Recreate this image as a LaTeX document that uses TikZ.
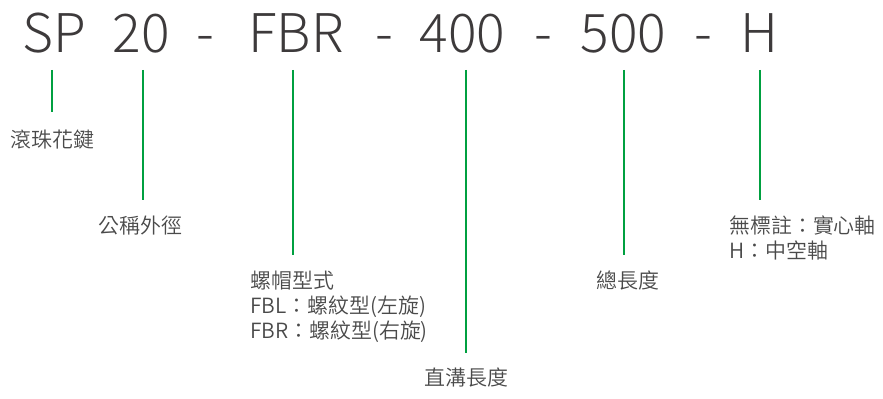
\documentclass[tikz,border=0pt]{standalone}
\usepackage{fontspec}
\setmainfont{Noto Sans CJK TC}
\newfontfamily\codefont{Noto Sans CJK TC Light}
\newfontfamily\notefont{Noto Sans CJK TC DemiLight}
\definecolor{codegray}{HTML}{3D3A3B}
\definecolor{labelgray}{HTML}{4A4A4A}
\definecolor{leadgreen}{HTML}{00A040}
\tikzset{
  code/.style={text=codegray,font=\codefont\fontsize{40}{44}\selectfont,anchor=base,inner sep=0pt},
  label/.style={text=labelgray,font=\notefont\fontsize{15.7}{18.75}\selectfont,anchor=west,align=left,inner sep=0pt},
  lead/.style={draw=leadgreen,line width=1.8pt}
}
\begin{document}
\begin{tikzpicture}[x=0.75pt,y=-0.75pt]
\useasboundingbox (0,0) rectangle (883,399);
% model code
\node[code] (sp) at (54.5,53) {SP};
\node[code] (dia) at (141,53) {20};
\node[code] (d1) at (205.5,53) {-};
\node[code] (nut) at (296,53) {FBR};
\node[code] (d2) at (384.5,53) {-};
\node[code] (groove) at (462.5,53) {400};
\node[code] (d3) at (543.5,53) {-};
\node[code] (total) at (623.5,53) {500};
\node[code] (d4) at (703.5,53) {-};
\node[code] (shaft) at (759,53) {H};
% leader lines
\foreach \x/\y in {52/112,143/200,293/255,466/353,624/255,760/200}
\draw[lead] (\x,70) -- (\x,\y);
% descriptions
\node[label] (spL) at (10,140) {滾珠花鍵};
\node[label] (diaL) at (98,226) {公稱外徑};
\node[label] (nutL) at (250,307) {螺帽型式\\FBL：螺紋型(左旋)\\FBR：螺紋型(右旋)};
\node[label] (grooveL) at (424,378) {直溝長度};
\node[label] (totalL) at (596,280) {總長度};
\node[label] (shaftL) at (729,237.5) {無標註：實心軸\\H：中空軸};
\end{tikzpicture}
\end{document}
